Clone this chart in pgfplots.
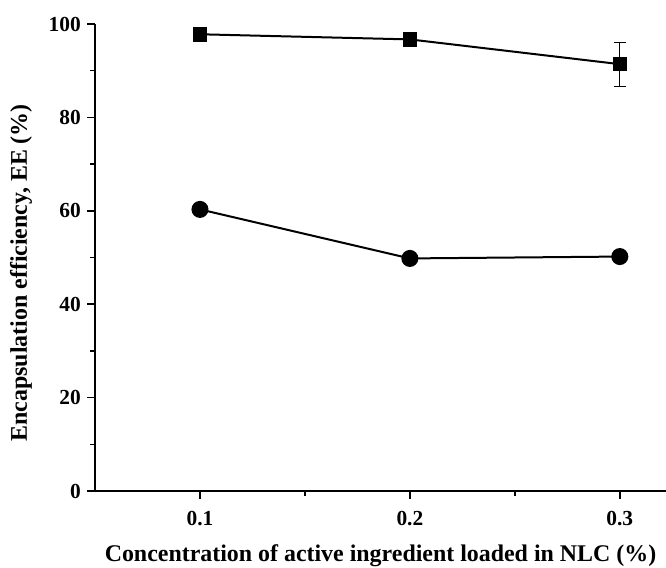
\documentclass[border=0pt]{standalone}
\usepackage{fontspec}
\setmainfont{Liberation Serif}
\usepackage{pgfplots}
\pgfplotsset{compat=1.18}
\begin{document}
\begin{tikzpicture}
\begin{axis}[
  scale only axis,
  width=571bp, height=467bp,
  xmin=0.05, xmax=0.322,
  ymin=0, ymax=100,
  axis x line=bottom, axis y line=left,
  axis line style={-, line width=2.2bp},
  tick align=outside,
  xtick={0.1,0.2,0.3},
  minor xtick={0.15,0.25},
  ytick={0,20,40,60,80,100},
  minor ytick={10,30,50,70,90},
  major tick length=8bp, minor tick length=5bp,
  every tick/.style={line width=1.6bp, black},
  xticklabel style={/pgf/number format/fixed, /pgf/number format/precision=1},
  /pgf/number format/assume math mode=true,
  tick label style={font=\fontsize{21.5}{25}\selectfont\bfseries},
  yticklabel style={inner sep=1bp, xshift=-5bp},
  xticklabel style={inner sep=1bp, yshift=-11bp},
  label style={font=\fontsize{24}{28}\selectfont\bfseries},
  xlabel={Concentration of active ingredient loaded in NLC (\%)},
  ylabel={Encapsulation efficiency, EE (\%)},
  ylabel style={at={(ticklabel cs:0.467)}, yshift=12bp},
  xlabel style={yshift=-14bp},
  clip=false,
]
\addplot[black, line width=2bp, mark=square*, mark size=6.3bp, mark options={solid, fill=black},
  error bars/.cd, y dir=both, y explicit,
  error bar style={line width=0.9bp, black},
  error mark options={rotate=90, mark size=6bp, line width=0.9bp}]
  coordinates {(0.1,97.8) +- (0,0) (0.2,96.7) +- (0,0) (0.3,91.4) +- (0,4.7)};
\addplot[black, line width=2bp, mark=*, mark size=7.5bp, mark options={solid, fill=black}]
  coordinates {(0.1,60.3) (0.2,49.8) (0.3,50.2)};
\end{axis}
\pgfresetboundingbox
\path ([shift={(-95bp,-77bp)}]current axis.south west) rectangle ([shift={(571bp,491bp)}]current axis.south west);
\end{tikzpicture}
\end{document}
